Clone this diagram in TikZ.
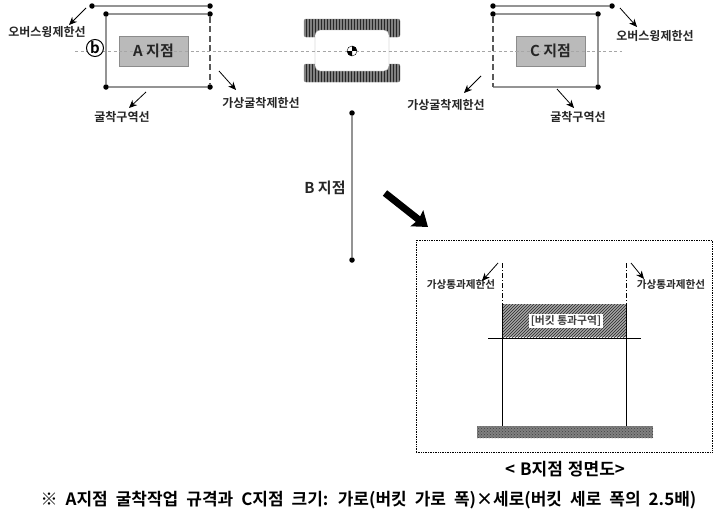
\documentclass[tikz,border=0pt]{standalone}
\usepackage{fontspec}
\setmainfont{Noto Sans CJK KR}[BoldFont={Noto Sans CJK KR Bold}]
\usetikzlibrary{arrows.meta}
\usetikzlibrary{patterns}
\usetikzlibrary{positioning}
\tikzset{
  thintip/.style={every edge/.style={draw,->,>={Stealth[length=8pt,width=7pt]},line width=0.8pt}},
  dotmark/.style={circle,fill=black,inner sep=0pt,minimum size=5.5pt},
  limitline/.style={draw=black!42,line width=1.4pt},
  dashline/.style={draw=black!65,line width=1.4pt,dash pattern=on 6pt off 3.5pt},
  axisline/.style={draw=black!35,line width=0.5pt,dash pattern=on 3pt off 2.5pt},
  sitebox/.style={draw=black!45,fill=black!27,line width=0.8pt,minimum width=69pt,minimum height=30pt,inner sep=0pt},
  barbox/.style={draw=black!50,preaction={fill=black!50},pattern=vertical lines,pattern color=black!85,rounded corners=2pt},
  lab/.style={font=\bfseries\fontsize{12}{14}\selectfont,text=black!85,inner sep=0pt},
  passlab/.style={font=\bfseries\fontsize{10.6}{12}\selectfont,text=black!85,inner sep=0pt},
  sitelab/.style={font=\bfseries\fontsize{15}{17}\selectfont,text=black!85,inner sep=0pt},
  capt/.style={font=\bfseries\fontsize{17}{19}\selectfont,inner sep=0pt}
}

\begin{document}
\begin{tikzpicture}[x=1pt,y=-1pt]
  \useasboundingbox (0,0) rectangle (717,514);

  % road axis
  \coordinate (axis_l) at (75,51);
  \coordinate (axis_r) at (622,51);

  % obstacle in the middle
  \node [barbox,minimum width=96pt,minimum height=18pt,inner sep=0pt] (bar_top) at (352,28) {};
  \node [barbox,minimum width=96pt,minimum height=18pt,inner sep=0pt] (bar_bot) at (352,73) {};
  \node [draw=black!40,fill=white,rounded corners=5pt,minimum width=74pt,minimum height=41pt,inner sep=0pt] (hole) at (352,50.5) {};
  \path [axisline] (axis_l) -- (axis_r);
  \node [draw,fill=white,circle,minimum size=10pt,inner sep=0pt] (centre) at (352,51) {};
  \fill (centre.center) -- (centre.north) arc (90:0:5pt) -- cycle;
  \fill (centre.center) -- (centre.south) arc (270:180:5pt) -- cycle;

  % A side
  \node [dotmark] (Aswing_l) at (92,6) {};
  \node [dotmark] (Aswing_r) at (210,6) {};
  \node [dotmark] (Atl) at (106,14) {};
  \node [dotmark] (Atr) at (210,14) {};
  \node [dotmark] (Abr) at (210,87) {};
  \node [dotmark] (Abl) at (106,87) {};
  \path [limitline] (Aswing_l) -- (Aswing_r);
  \path [limitline] (Abr) -- (Abl) -- (Atl) -- (Atr);
  \path [dashline] (Atr) -- (Abr);
  \node [sitebox] (Asite) at (153.5,51) {};
  \path [axisline] (Asite.west) -- (Asite.east);
  \node [sitelab] (Alab) at (153.5,51) {A 지점};
  \node [draw,fill=white,circle,line width=1pt,minimum size=17pt,inner sep=0pt,font=\bfseries\fontsize{15}{15}\selectfont] (bmark) at (95,48) {b};

  \node [lab] (Aswing_lab) at (47,32) {오버스윙제한선};
  \node [lab] (Adash_lab) at (261,103) {가상굴착제한선};
  \node [lab] (Adig_lab) at (122,117) {굴착구역선};
  \coordinate (Aa1) at (86,8);
  \coordinate (Aa2) at (69,25);
  \coordinate (Ab1) at (219,71);
  \coordinate (Ab2) at (236,90);
  \coordinate (Ac1) at (146,92);
  \coordinate (Ac2) at (129,108);
  \path [thintip]
    (Aa1) edge (Aa2)
    (Ab1) edge (Ab2)
    (Ac1) edge (Ac2);

  % C side
  \node [dotmark] (Cswing_l) at (493,6) {};
  \node [dotmark] (Cswing_r) at (612,6) {};
  \node [dotmark] (Ctl) at (493,14) {};
  \node [dotmark] (Ctr) at (598,14) {};
  \node [dotmark] (Cbr) at (598,87) {};
  \coordinate (Cbl) at (493,87);
  \path [limitline] (Cswing_l) -- (Cswing_r);
  \path [limitline] (Ctl) -- (Ctr) -- (Cbr) -- (Cbl);
  \path [dashline] (Ctl) -- (Cbl);
  \node [sitebox] (Csite) at (550.5,51) {};
  \path [axisline] (Csite.west) -- (Csite.east);
  \node [sitelab] (Clab) at (550.5,51) {C 지점};

  \node [lab] (Cswing_lab) at (655,36) {오버스윙제한선};
  \node [lab] (Cdash_lab) at (446,105) {가상굴착제한선};
  \node [lab] (Cdig_lab) at (578,117) {굴착구역선};
  \coordinate (Ca1) at (620,8);
  \coordinate (Ca2) at (637,27);
  \coordinate (Cb1) at (481,76);
  \coordinate (Cb2) at (464,93);
  \coordinate (Cc1) at (557,89);
  \coordinate (Cc2) at (574,108);
  \path [thintip]
    (Ca1) edge (Ca2)
    (Cb1) edge (Cb2)
    (Cc1) edge (Cc2);

  % B point
  \node [dotmark] (Btop) at (352,113) {};
  \node [dotmark] (Bbot) at (352,260) {};
  \path [limitline] (Btop) -- (Bbot);
  \node [sitelab] (Blab) at (325,188) {B 지점};
  \coordinate (big1) at (385,193);
  \coordinate (big2) at (428,227);
  \path [draw,-{Stealth[length=14pt,width=20pt,inset=2pt]},line width=7pt] (big1) -- (big2);

  % front view of B
  \node [draw,densely dotted,line width=0.7pt,minimum width=296pt,minimum height=212pt,inner sep=0pt] (frame) at (564,346) {};
  \node [preaction={fill=black!35},pattern=north east lines,pattern color=black!85,minimum width=124pt,minimum height=33pt,inner sep=0pt] (pass) at (564,320.5) {};
  \node [fill=white,font=\bfseries\fontsize{10.8}{12}\selectfont,text=black!75,inner sep=1.5pt] (pass_lab) at (566,321) {[버킷 통과구역]};
  \node [preaction={fill=black!50},pattern=crosshatch dots,pattern color=black!75,minimum width=176pt,minimum height=12pt,inner sep=0pt] (ground) at (565,432) {};
  \coordinate (Ltop) at (502,263);
  \coordinate (Lmid) at (502,304);
  \coordinate (Lbot) at (502,426);
  \coordinate (Rtop) at (626,263);
  \coordinate (Rmid) at (626,304);
  \coordinate (Rbot) at (626,426);
  \coordinate (beam_l) at (488,338);
  \coordinate (beam_r) at (641,338);
  \path [draw,line width=0.9pt,dash pattern=on 5pt off 2pt on 1pt off 2pt]
    (Ltop) -- (Lmid)
    (Rtop) -- (Rmid);
  \path [draw,line width=1pt]
    (Lmid) -- (Lbot)
    (Rmid) -- (Rbot)
    (beam_l) -- (beam_r);

  \node [passlab] (Lpass_lab) at (461,285) {가상통과제한선};
  \node [passlab] (Rpass_lab) at (671,285) {가상통과제한선};
  \coordinate (La1) at (498,263);
  \coordinate (La2) at (482,281);
  \coordinate (Ra1) at (631,263);
  \coordinate (Ra2) at (644,279);
  \path [thintip]
    (La1) edge (La2)
    (Ra1) edge (Ra2);

  % captions
  \node [capt] (front_capt) at (565,469) {\spaceskip=5pt < B지점 정면도>};
  \node [capt] (note_capt) at (368.5,500) {\spaceskip=8pt ※ A지점 굴착작업 규격과 C지점 크기: 가로(버킷 가로 폭)×세로(버킷 세로 폭의 2.5배)};
\end{tikzpicture}
\end{document}
